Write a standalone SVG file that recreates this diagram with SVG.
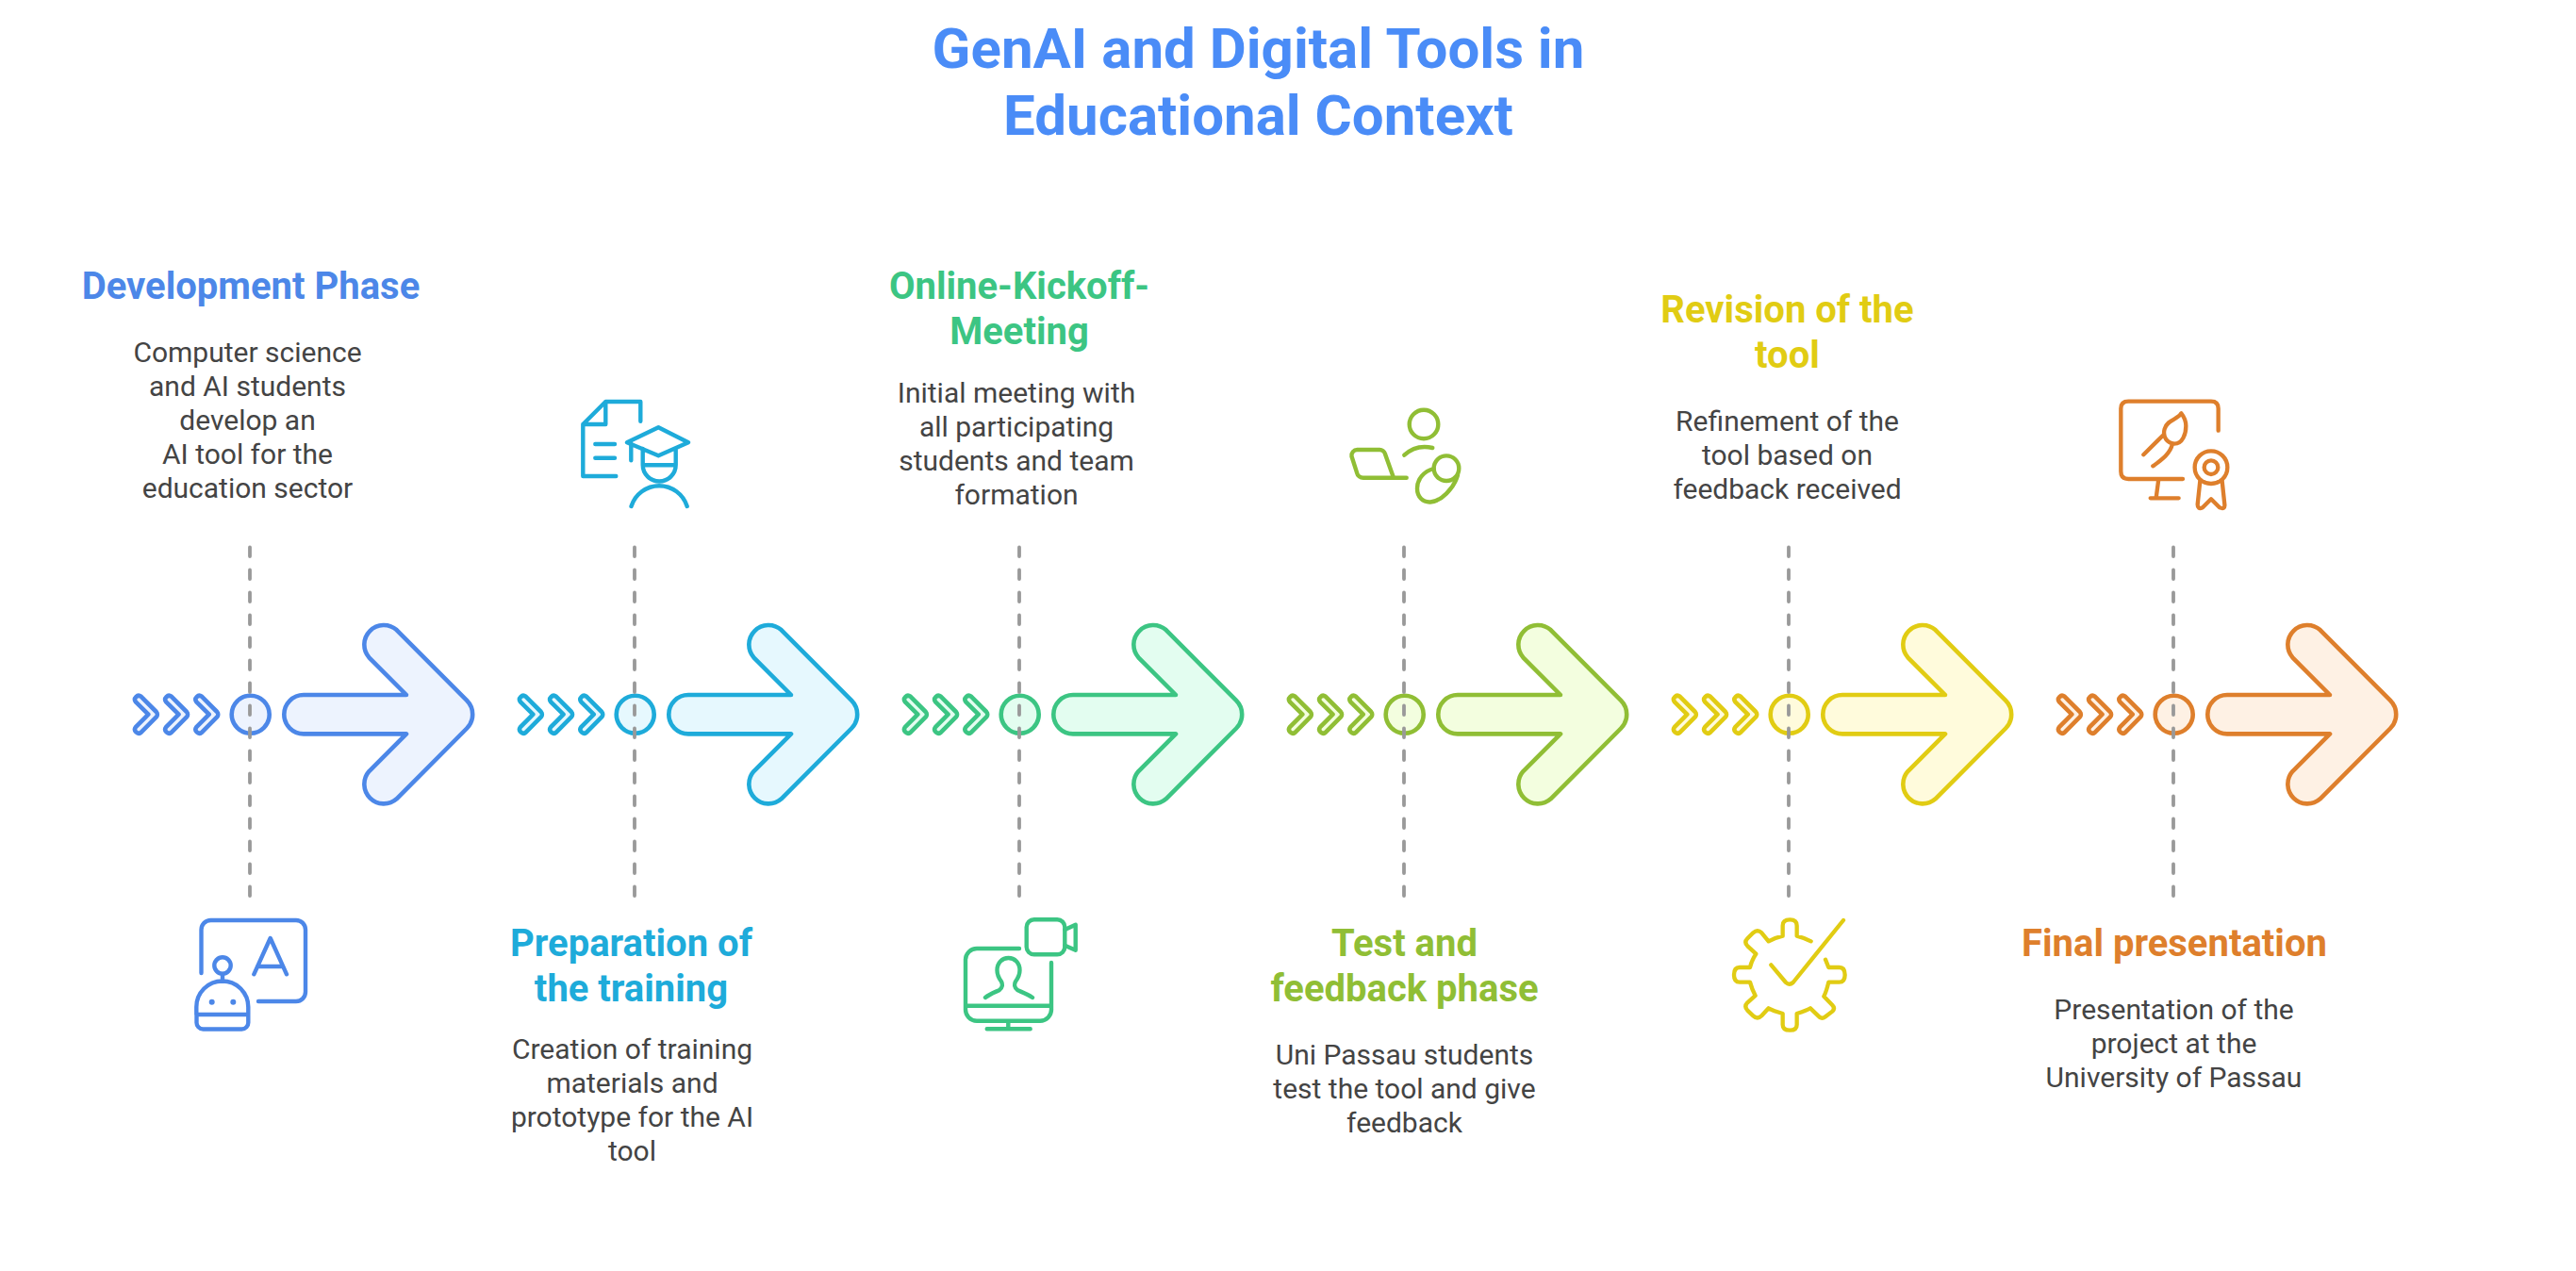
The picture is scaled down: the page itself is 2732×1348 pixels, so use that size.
<svg xmlns="http://www.w3.org/2000/svg" width="2732" height="1348" viewBox="0 0 2732 1348">
<style>
text{font-family:Roboto,"Liberation Sans",sans-serif;text-anchor:middle}
.t{font-size:60px;font-weight:700;fill:#4a8cf7}
.h{font-size:40px;font-weight:700}
.b{font-size:30px;fill:#444}
.i{fill:none;stroke-width:4.4;stroke-linecap:round;stroke-linejoin:round}
.z{fill:none;stroke-width:13;stroke-linecap:round;stroke-linejoin:round}
.s{stroke-width:4.6;stroke-linejoin:round}
.d{stroke:#999;stroke-width:3.8;stroke-linecap:round;stroke-dasharray:9.5 14.5;fill:none}
.c1{stroke:#4c87e8;fill:#edf3fe}.c2{stroke:#1eabda;fill:#e6f8fe}.c3{stroke:#3cc583;fill:#e3fdf0}.c4{stroke:#90be35;fill:#f3fedf}.c5{stroke:#e1cc13;fill:#fffbdc}.c6{stroke:#de7f2c;fill:#fef1e4}
.f1{fill:#4c87e8}.f2{fill:#1eabda}.f3{fill:#3cc583}.f4{fill:#90be35}.f5{fill:#e1cc13}.f6{fill:#de7f2c}
</style>
<defs>
<path id="chev" d="M143.9 744.3A4 4 0 0 1 149.5 738.7L165.8 755A4 4 0 0 1 165.8 760.4L149.5 776.8A4 4 0 0 1 143.9 771.2L157.3 757.7Z"/>
<g id="stage">
<use href="#chev"/><use href="#chev" x="32.2"/><use href="#chev" x="64.4"/>
<circle cx="265.7" cy="757.7" r="20"/>
<path d="M322 737H431L391.4 697.3A20.7 20.7 0 0 1 420.6 668.1L495.1 742.9A21 21 0 0 1 495.1 772.5L420.6 847.3A20.7 20.7 0 0 1 391.4 818.1L431 778.4H322A20.7 20.7 0 0 1 322 737Z"/>
</g>
</defs>
<g id="title"><text class="t" x="1334.5" y="72">GenAI and Digital Tools in</text><text class="t" x="1334.5" y="143">Educational Context</text></g>

<g id="node-development">
<use href="#stage" class="c1 s"/>
<text class="h f1" x="266" y="317">Development Phase</text>
<text class="b" x="262.5" y="384.3">Computer science</text><text class="b" x="262.5" y="420.3">and AI students</text><text class="b" x="262.5" y="456.3">develop an</text><text class="b" x="262.5" y="492.3">AI tool for the</text><text class="b" x="262.5" y="528.3">education sector</text>
<g class="i" stroke="#4c87e8"><path d="M213.5 1032V986a10 10 0 0 1 10-10H314a10 10 0 0 1 10 10V1052a10 10 0 0 1-10 10H274"/><path d="M269.3 1033.3L286.7 995L304 1033.3M273 1025H300"/><circle cx="236" cy="1024" r="8.7"/><path d="M236 1033V1040.7M208.3 1076V1068a27.5 27.5 0 0 1 55 0V1084a7 7 0 0 1-7 7.5H215.5a7 7 0 0 1-7-7.5V1076H263.3"/></g>
<circle class="f1" cx="224.7" cy="1062.7" r="3"/><circle class="f1" cx="247.3" cy="1062.7" r="3"/>
</g>

<g id="node-preparation">
<use href="#stage" x="408" class="c2 s"/>
<text class="h f2" x="669.5" y="1014">Preparation of</text><text class="h f2" x="669.5" y="1061.7">the training</text>
<text class="b" x="670.5" y="1122.7">Creation of training</text><text class="b" x="670.5" y="1158.5">materials and</text><text class="b" x="670.5" y="1194.5">prototype for the AI</text><text class="b" x="670.5" y="1230.5">tool</text>
<g class="i" stroke="#1eabda"><path d="M679.3 446.7V426H642.3L618.3 450V505H653.3M642.3 426V450H618.3M631.3 471H652M631.3 485.7H652"/><path d="M665 469.3L698.3 453.3L730 469.3L698.3 483.3ZM669.3 470V488.3M681.7 476V493a17.5 17.5 0 0 0 35 0V476M681.7 493.3H716.7M669.5 537A31 31 0 0 1 728.7 537"/></g>
</g>

<g id="node-kickoff">
<use href="#stage" x="816" class="c3 s"/>
<text class="h f3" x="1081" y="317">Online-Kickoff-</text><text class="h f3" x="1081" y="365">Meeting</text>
<text class="b" x="1078" y="426.5">Initial meeting with</text><text class="b" x="1078" y="462.5">all participating</text><text class="b" x="1078" y="498.5">students and team</text><text class="b" x="1078" y="534.5">formation</text>
<g class="i" stroke="#3cc583"><path d="M1081 1006H1036a12 12 0 0 0-12 12V1070a12 12 0 0 0 12 12.7H1103a12 12 0 0 0 12-12.7V1021M1024.3 1066.7H1115M1069.3 1082.7V1091.3M1046.7 1091.3H1092.7"/><path d="M1045 1058C1050 1054 1056 1052 1060 1050C1063 1048 1063.5 1044 1062 1041C1059 1037 1057.5 1033 1057.5 1029C1057.5 1021 1063 1016 1069.5 1016C1076 1016 1081.5 1021 1081.5 1029C1081.5 1033 1080 1037 1077 1041C1075.5 1044 1076 1048 1079 1050C1083 1052 1089 1054 1095 1058"/><rect x="1088.7" y="975.3" width="40.6" height="37" rx="8"/><path d="M1129.3 986L1140.7 980.7V1007.7L1129.3 1002.7"/></g>
</g>

<g id="node-test">
<use href="#stage" x="1224" class="c4 s"/>
<text class="h f4" x="1489.5" y="1014">Test and</text><text class="h f4" x="1489.5" y="1061.7">feedback phase</text>
<text class="b" x="1489.5" y="1128.5">Uni Passau students</text><text class="b" x="1489.5" y="1164.5">test the tool and give</text><text class="b" x="1489.5" y="1200.5">feedback</text>
<g class="i" stroke="#90be35"><circle cx="1510" cy="450" r="15.3"/><path d="M1489.3 482.7Q1502 471 1519.3 475"/><path d="M1491.7 506.7H1446a7 7 0 0 1-7-5.5L1433.5 484a6 6 0 0 1 6-7H1463a6 6 0 0 1 6 4.5L1478 506.7"/><circle cx="1534" cy="496.7" r="13.3"/><path d="M1520.5 497C1510 500 1503 508 1503 518C1503 527 1509 533 1517 532.5C1528 532 1542 518 1546 504"/></g>
</g>

<g id="node-revision">
<use href="#stage" x="1632" class="c5 s"/>
<text class="h f5" x="1895.5" y="341.7">Revision of the</text><text class="h f5" x="1895.5" y="390">tool</text>
<text class="b" x="1895.5" y="456.7">Refinement of the</text><text class="b" x="1895.5" y="492.5">tool based on</text><text class="b" x="1895.5" y="528.5">feedback received</text>
<g class="z" stroke="#e1cc13" transform="translate(1820 960) scale(.3333)"><path d="M348 173L358 198H392Q410 198 410 222Q410 245 392 245H358C354 262 351 275 343 290L370 318Q380 328 370 338L348 355Q335 365 325 352L300 328C287 335 272 340 257 345V380Q257 398 235 398Q212 398 212 380V345C195 340 180 335 167 328L145 352Q132 365 118 352L100 335Q88 322 100 310L125 288C118 275 112 260 108 245H75Q57 245 57 222Q57 198 75 198H108C112 182 118 168 127 155L100 130Q88 118 100 106L118 88Q132 75 145 88L167 115C180 108 195 102 212 98V65Q212 46 235 46Q257 46 257 65V98C272 102 288 108 302 115"/><path d="M175 190L222 246Q233 256 245 246L405 48"/></g>
</g>

<g id="node-final">
<use href="#stage" x="2040" class="c6 s"/>
<text class="h f6" x="2306" y="1014">Final presentation</text>
<text class="b" x="2305.5" y="1080.5">Presentation of the</text><text class="b" x="2305.5" y="1116.5">project at the</text><text class="b" x="2305.5" y="1152.5">University of Passau</text>
<g class="z" stroke="#de7f2c" transform="translate(2230 410) scale(.3333)"><path d="M368 140V70Q368 47 345 47H82Q58 47 58 70V270Q58 294 82 294H255M178 294L170 355M152 355H242"/><path d="M250 85C240 105 205 105 197 135C190 160 205 180 228 182C255 182 265 150 265 125C265 110 258 95 250 85ZM192 155L130 217M222 182C215 215 185 235 160 253"/><circle cx="345" cy="257" r="52"/><circle cx="345" cy="257" r="22"/><path d="M310 300L302 375Q302 392 318 385L345 358L372 385Q390 392 388 375L380 300"/></g>
</g>

<g id="connectors" class="d">
<path d="M265 580.5V950"/><path d="M673 580.5V950"/><path d="M1081 580.5V950"/><path d="M1489 580.5V950"/><path d="M1897 580.5V950"/><path d="M2305 580.5V950"/>
</g>
</svg>
